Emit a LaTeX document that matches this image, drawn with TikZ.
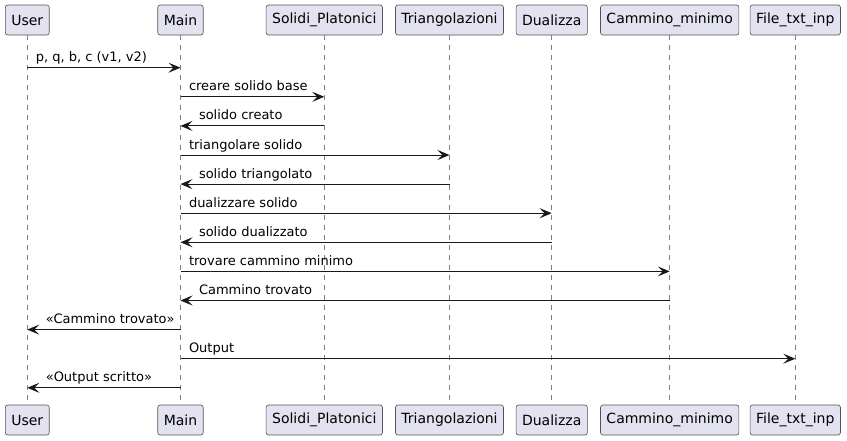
\documentclass[tikz,border=0pt]{standalone}
\usepackage{fontspec}
\setmainfont{DejaVu Sans}
\usetikzlibrary{arrows.meta, positioning, calc}
\definecolor{partfill}{HTML}{E2E2F0}
\definecolor{umlline}{HTML}{181818}
\tikzset{
         mypart/.style={draw=umlline!75, fill=partfill, rounded corners=2.5pt, line width=0.6pt,
                        minimum height=30pt, inner xsep=6pt, font=\fontsize{14}{16}\selectfont},
         mylife/.style={draw=umlline!55, dash pattern=on 5pt off 5pt, line width=0.6pt},
         mylabr/.style={anchor=base west, inner sep=0pt, xshift=8pt, yshift=6pt,
                        font=\fontsize{13}{15}\selectfont},
         mylabl/.style={anchor=base west, inner sep=0pt, xshift=18pt, yshift=6pt,
                        font=\fontsize{13}{15}\selectfont}
      }

\begin{document}
\begin{tikzpicture}[x=1pt, y=-1pt]
                  \tikzstyle{line} = [draw=umlline, line width=1pt, -{Stealth[length=12pt,width=10pt,inset=5pt]}]
                     \useasboundingbox (0,0) rectangle (847,440);
                     % participants, top and bottom
                     \node[mypart] (userT)  at (27.3,20)  {User};
                     \node[mypart] (mainT)  at (180.5,20) {Main};
                     \node[mypart] (solT)   at (324.3,20) {Solidi\_Platonici};
                     \node[mypart] (triT)   at (449.5,20) {Triangolazioni};
                     \node[mypart] (dualT)  at (551.7,20) {Dualizza};
                     \node[mypart] (camT)   at (669.7,20) {Cammino\_minimo};
                     \node[mypart] (fileT)  at (795.3,20) {File\_txt\_inp};
                     \node[mypart] (userB)  at (27.3,420)  {User};
                     \node[mypart] (mainB)  at (180.5,420) {Main};
                     \node[mypart] (solB)   at (324.3,420) {Solidi\_Platonici};
                     \node[mypart] (triB)   at (449.5,420) {Triangolazioni};
                     \node[mypart] (dualB)  at (551.7,420) {Dualizza};
                     \node[mypart] (camB)   at (669.7,420) {Cammino\_minimo};
                     \node[mypart] (fileB)  at (795.3,420) {File\_txt\_inp};
                     \foreach \p in {user, main, sol, tri, dual, cam, file}
                        \path[mylife] (\p T.south) -- (\p B.north);
                     % message rows
                     \foreach \i in {1,...,12}
                        \coordinate (r\i) at (0,{67.7+29.1*(\i-1)});
                     \path [line] (userT |- r1)  -- (mainT |- r1)  node[pos=0, mylabr] {p, q, b, c (v1, v2)};
                     \path [line] (mainT |- r2)  -- (solT |- r2)   node[pos=0, mylabr] {creare solido base};
                     \path [line] (solT |- r3)   -- (mainT |- r3)  node[pos=1, mylabl] {solido creato};
                     \path [line] (mainT |- r4)  -- (triT |- r4)   node[pos=0, mylabr] {triangolare solido};
                     \path [line] (triT |- r5)   -- (mainT |- r5)  node[pos=1, mylabl] {solido triangolato};
                     \path [line] (mainT |- r6)  -- (dualT |- r6)  node[pos=0, mylabr] {dualizzare solido};
                     \path [line] (dualT |- r7)  -- (mainT |- r7)  node[pos=1, mylabl] {solido dualizzato};
                     \path [line] (mainT |- r8)  -- (camT |- r8)   node[pos=0, mylabr] {trovare cammino minimo};
                     \path [line] (camT |- r9)   -- (mainT |- r9)  node[pos=1, mylabl] {Cammino trovato};
                     \path [line] (mainT |- r10) -- (userT |- r10) node[pos=1, mylabl] {«Cammino trovato»};
                     \path [line] (mainT |- r11) -- (fileT |- r11) node[pos=0, mylabr] {Output};
                     \path [line] (mainT |- r12) -- (userT |- r12) node[pos=1, mylabl] {«Output scritto»};
               \end{tikzpicture}
\end{document}
